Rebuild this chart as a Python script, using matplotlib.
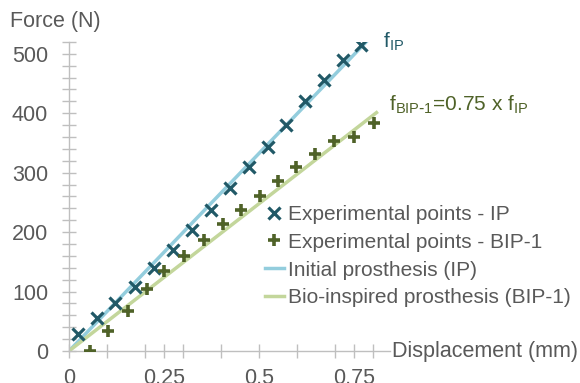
import matplotlib
matplotlib.use("Agg")
import matplotlib.pyplot as plt
from matplotlib.ticker import MultipleLocator

plt.rcParams["font.family"] = ["Liberation Sans", "DejaVu Sans"]

# experimental points (displacement mm, force N)
ip_x = [0.024, 0.074, 0.122, 0.175, 0.225, 0.275, 0.323, 0.373, 0.424,
        0.474, 0.524, 0.571, 0.622, 0.672, 0.722, 0.770]
ip_y = [28, 55, 80, 107, 139, 170, 204, 237, 274, 309, 344, 380, 420, 456, 490, 515]

bip_x = [0.056, 0.103, 0.156, 0.206, 0.251, 0.302, 0.355, 0.405, 0.452,
         0.503, 0.550, 0.598, 0.648, 0.698, 0.751, 0.804]
bip_y = [0, 33, 67, 105, 134, 160, 186, 214, 237, 261, 286, 309, 331, 353, 360, 383]

# model curves
ip_line_x = [0, 0.783]
ip_line_y = [0, 520]
bip_line_x = [0, 0.81]
bip_line_y = [0, 401]

grey = "#595959"
axis_grey = "#BFBFBF"
c_ip_pts = "#215967"
c_bip_pts = "#4F6228"
c_ip_line = "#93CDDD"
c_bip_line = "#C3D69B"
fs = 15.5

fig = plt.figure(figsize=(5.8, 3.83), dpi=100)
ax = fig.add_axes([0.119, 0.0836, 0.553, 0.807])

ax.plot(ip_x, ip_y, ls="none", marker="x", ms=8, mew=2.3, color=c_ip_pts,
        label="Experimental points - IP", zorder=3)
ax.plot(bip_x, bip_y, ls="none", marker="+", ms=9, mew=2.6, color=c_bip_pts,
        label="Experimental points - BIP-1", zorder=3)
ax.plot(ip_line_x, ip_line_y, color=c_ip_line, lw=2.5,
        label="Initial prosthesis (IP)", zorder=2)
ax.plot(bip_line_x, bip_line_y, color=c_bip_line, lw=2.5,
        label="Bio-inspired prosthesis (BIP-1)", zorder=2)

ax.set_xlim(0, 0.845)
ax.set_ylim(0, 520)
ax.xaxis.set_minor_locator(MultipleLocator(0.1))
ax.yaxis.set_major_locator(MultipleLocator(100))
ax.yaxis.set_minor_locator(MultipleLocator(20))
ax.set_xticks([0, 0.25, 0.5, 0.75])
ax.set_xticklabels(["0", "0.25", "0.5", "0.75"])

for s in ["top", "right"]:
    ax.spines[s].set_visible(False)
for s in ["left", "bottom"]:
    ax.spines[s].set_color(axis_grey)
    ax.spines[s].set_linewidth(1)

ax.tick_params(which="major", direction="inout", length=10, width=1,
               color=axis_grey, labelcolor=grey, labelsize=fs)
ax.tick_params(which="minor", direction="inout", length=10, width=1,
               color=axis_grey)
ax.tick_params(axis="y", pad=10)
ax.tick_params(axis="x", pad=7)

fig.text(10 / 580, 1 - 22 / 383, "Force (N)", color=grey, fontsize=fs,
         va="center", ha="left")
fig.text(392 / 580, 1 - 351 / 383, "Displacement (mm)", color=grey,
         fontsize=fs, va="center", ha="left")

fig.text(383 / 580, 1 - 42 / 383, r"f$_{\mathregular{IP}}$", color=c_ip_pts,
         fontsize=15, va="center", ha="left")
fig.text(389 / 580, 1 - 105 / 383,
         r"f$_{\mathregular{BIP\text{-}1}}$=0.75 x f$_{\mathregular{IP}}$",
         color=c_bip_pts, fontsize=15, va="center", ha="left")

leg = ax.legend(loc="upper left", bbox_to_anchor=(265 / 580, 1 - 205 / 383),
                bbox_transform=fig.transFigure, frameon=False, fontsize=15,
                handlelength=0.9, handletextpad=0.2, labelspacing=0.42,
                borderaxespad=0, borderpad=0)
for t in leg.get_texts():
    t.set_color(grey)

fig.savefig("out.png", dpi=100)
